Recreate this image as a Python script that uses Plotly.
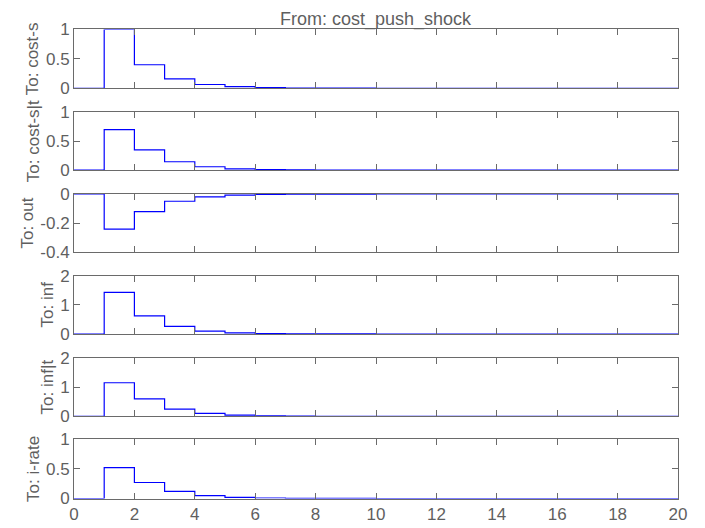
import plotly.graph_objects as go

# ---- data ----
t = list(range(0, 21))
cost_s = [0, 1.0, 0.40, 0.16, 0.064, 0.026, 0.010, 0.004, 0.0016, 0.0007, 0.0003,
          0.0001, 0, 0, 0, 0, 0, 0, 0, 0, 0]
cost_s_t = [0, 0.70, 0.35, 0.145, 0.058, 0.023, 0.009, 0.0037, 0.0015, 0.0006, 0.0002,
            0.0001, 0, 0, 0, 0, 0, 0, 0, 0, 0]
out = [0, -0.242, -0.121, -0.050, -0.020, -0.008, -0.003, -0.0012, -0.0005, -0.0002,
       -0.0001, 0, 0, 0, 0, 0, 0, 0, 0, 0, 0]
inf = [0, 1.43, 0.62, 0.26, 0.10, 0.04, 0.016, 0.006, 0.0025, 0.001, 0.0004,
       0.0002, 0, 0, 0, 0, 0, 0, 0, 0, 0]
inf_t = [0, 1.15, 0.60, 0.25, 0.10, 0.04, 0.016, 0.006, 0.0026, 0.001, 0.0004,
         0.0002, 0, 0, 0, 0, 0, 0, 0, 0, 0]
i_rate = [0, 0.52, 0.27, 0.12, 0.05, 0.02, 0.008, 0.003, 0.0013, 0.0005, 0.0002,
          0.0001, 0, 0, 0, 0, 0, 0, 0, 0, 0]

series = [cost_s, cost_s_t, out, inf, inf_t, i_rate]
y_titles = ["To: cost-s", "To: cost-s|t", "To: out", "To: inf", "To: inf|t", "To: i-rate"]
y_ranges = [[0, 1], [0, 1], [-0.4, 0], [0, 2], [0, 2], [0, 1]]
y_tickvals = [[0, 0.5, 1], [0, 0.5, 1], [-0.4, -0.2, 0], [0, 1, 2], [0, 1, 2], [0, 0.5, 1]]
y_ticktext = [["0", "0.5", "1"], ["0", "0.5", "1"], ["-0.4", "-0.2", "0"],
              ["0", "1", "2"], ["0", "1", "2"], ["0", "0.5", "1"]]
x_tickvals = list(range(0, 21, 2))
title_text = "From: cost_push_shock"

# ---- layout geometry (screen pixels; page body has an 8px offset) ----
OFF = 8
W, H = 705, 528
ML, MR, MT, MB = 74 - OFF, 27 + OFF, 29 - OFF, 27 + OFF
plot_h = H - MT - MB
tops = [29.5, 112.7, 194.7, 276.7, 359.3, 441.0]
bots = [88.5, 170.7, 253.0, 335.3, 418.0, 500.5]

def py(px):
    return (H - MB - (px - OFF)) / plot_h

TXT = "#5f5f5f"
LINE = "#6a6a6a"
FONT = "Liberation Sans, Arial, sans-serif"

fig = go.Figure()
layout = dict(
    width=W, height=H,
    margin=dict(l=ML, r=MR, t=MT, b=MB),
    paper_bgcolor="white", plot_bgcolor="white",
    showlegend=False,
    font=dict(family=FONT, size=17, color=TXT),
)

for i, ys in enumerate(series):
    n = i + 1
    xa = "x" if n == 1 else f"x{n}"
    ya = "y" if n == 1 else f"y{n}"
    fig.add_trace(go.Scatter(x=t, y=ys, mode="lines", line=dict(shape="hv", color="#0000ff", width=1.2),
                             xaxis=xa, yaxis=ya, hoverinfo="skip"))
    xkey = "xaxis" if n == 1 else f"xaxis{n}"
    ykey = "yaxis" if n == 1 else f"yaxis{n}"
    layout[xkey] = dict(
        domain=[0, 1], anchor=ya, range=[0, 20],
        tickmode="array", tickvals=x_tickvals,
        showticklabels=(n == 6),
        ticks="inside", ticklen=6, tickcolor=LINE, tickwidth=1,
        showline=True, linecolor=LINE, linewidth=1, mirror="ticks",
        showgrid=False, zeroline=False,
        tickfont=dict(size=17, color=TXT, family=FONT),
    )
    if n != 1:
        layout[xkey]["matches"] = "x"
    layout[ykey] = dict(
        domain=[py(bots[i]), py(tops[i])], anchor=xa, range=y_ranges[i],
        tickmode="array", tickvals=y_tickvals[i], ticktext=y_ticktext[i],
        ticks="inside", ticklen=6, tickcolor=LINE, tickwidth=1,
        showline=True, linecolor=LINE, linewidth=1, mirror="ticks",
        showgrid=False, zeroline=False,
        tickfont=dict(size=17, color=TXT, family=FONT),
        title=dict(text=y_titles[i], font=dict(size=17, color=TXT, family=FONT), standoff=2),
    )

# title pinned to the very top of the figure box so it is not clipped
layout["annotations"] = [dict(
    text=title_text, x=0.5, y=1, xref="paper", yref="paper",
    yanchor="top", xanchor="center", yshift=MT, borderpad=0, showarrow=False,
    font=dict(size=18, color=TXT, family=FONT),
)]

fig.update_layout(**layout)
fig.write_html("out.html", config={"displayModeBar": False})
